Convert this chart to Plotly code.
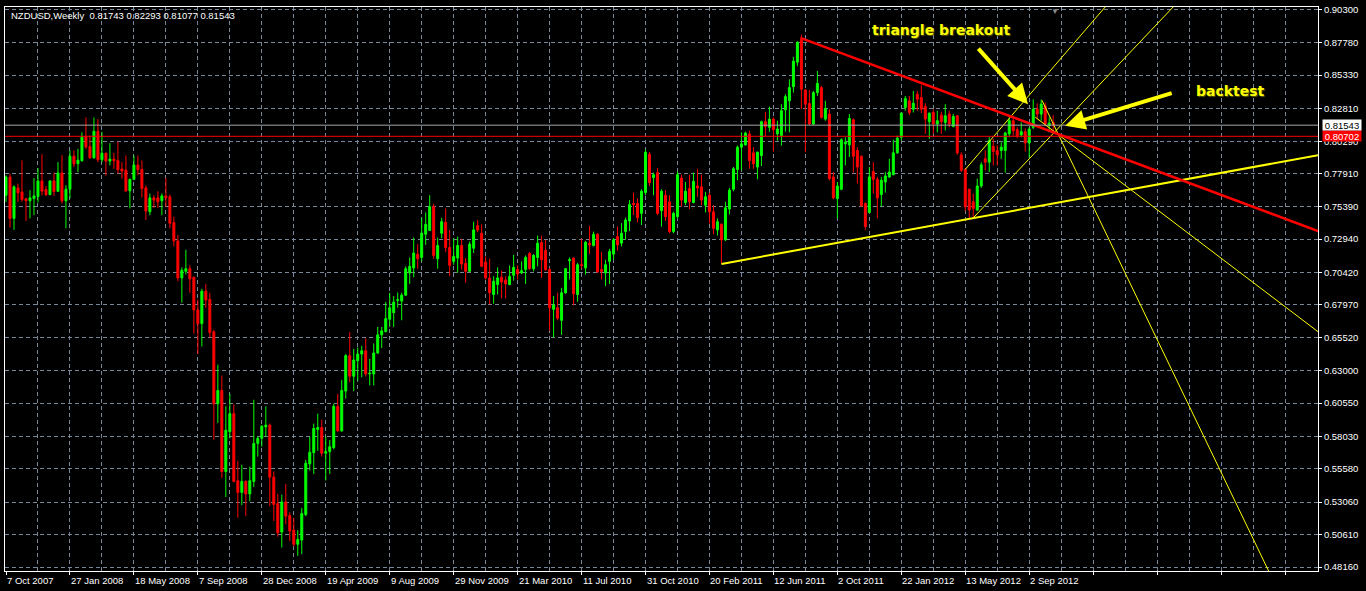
import pandas as pd
import plotly.graph_objects as go

# THEME (MetaTrader black chart)
BG = "#000000"
FG = "#ffffff"
GRID = "#778899"
BULL = "#00ff00"
BEAR = "#ff0000"
YELLOW = "#ffff00"
LAST_GRAY = "#a8a8a8"
FONT = "Liberation Sans"

START = pd.Timestamp("2007-10-07")
WEEK_MS = 7 * 86400000

# weekly NZDUSD candles, bar 0 = 7 Oct 2007
OPEN = [
    0.7625, 0.7763, 0.7450, 0.7680, 0.7650, 0.7598, 0.7583, 0.7600,
    0.7615, 0.7733, 0.7668, 0.7630, 0.7733, 0.7655, 0.7793, 0.7583,
    0.7670, 0.7920, 0.7863, 0.7885, 0.8068, 0.7993, 0.7908, 0.8108,
    0.7893, 0.7943, 0.7883, 0.7898, 0.7888, 0.7823, 0.7815, 0.7658,
    0.7745, 0.7853, 0.7820, 0.7680, 0.7500, 0.7605, 0.7605, 0.7583,
    0.7620, 0.7613, 0.7418, 0.7280, 0.7000, 0.7050, 0.7070, 0.7005,
    0.6758, 0.6655, 0.6900, 0.6838, 0.6593, 0.6050, 0.6150, 0.5538,
    0.5838, 0.5975, 0.5468, 0.5380, 0.5463, 0.5368, 0.5463, 0.5750,
    0.5788, 0.5875, 0.5888, 0.5495, 0.5295, 0.5080, 0.5308, 0.5205,
    0.5095, 0.4988, 0.5020, 0.5213, 0.5595, 0.5680, 0.5855, 0.5870,
    0.5675, 0.5688, 0.5718, 0.6030, 0.5845, 0.6145, 0.6413, 0.6258,
    0.6375, 0.6425, 0.6450, 0.6275, 0.6275, 0.6433, 0.6570, 0.6595,
    0.6688, 0.6738, 0.6830, 0.6825, 0.6870, 0.7038, 0.7075, 0.7180,
    0.7155, 0.7330, 0.7358, 0.7538, 0.7145, 0.7338, 0.7420, 0.7230,
    0.7125, 0.7150, 0.7245, 0.7110, 0.7050, 0.7225, 0.7395, 0.7338,
    0.7120, 0.7000, 0.6875, 0.6950, 0.7005, 0.6985, 0.6950, 0.7020,
    0.7063, 0.7038, 0.7063, 0.7185, 0.7070, 0.7155, 0.7268, 0.7208,
    0.7063, 0.6763, 0.6775, 0.6680, 0.6888, 0.7130, 0.7150, 0.6875,
    0.7100, 0.7075, 0.7263, 0.7245, 0.7330, 0.7063, 0.7038, 0.7125,
    0.7180, 0.7313, 0.7263, 0.7350, 0.7430, 0.7563, 0.7563, 0.7488,
    0.7645, 0.7935, 0.7758, 0.7795, 0.7508, 0.7625, 0.7575, 0.7350,
    0.7463, 0.7755, 0.7570, 0.7675, 0.7570, 0.7695, 0.7688, 0.7550,
    0.7625, 0.7500, 0.7363, 0.7405, 0.7288, 0.7520, 0.7670, 0.7820,
    0.7988, 0.8005, 0.8088, 0.7945, 0.7838, 0.7925, 0.8180, 0.8138,
    0.8200, 0.8088, 0.8075, 0.8270, 0.8338, 0.8445, 0.8630, 0.8800,
    0.8420, 0.8318, 0.8163, 0.8400, 0.8438, 0.8200, 0.8238, 0.7763,
    0.7600, 0.7670, 0.8013, 0.8005, 0.8195, 0.7963, 0.7920, 0.7563,
    0.7495, 0.7805, 0.7745, 0.7630, 0.7725, 0.7763, 0.7780, 0.7945,
    0.8063, 0.8288, 0.8338, 0.8275, 0.8388, 0.8363, 0.8295, 0.8180,
    0.8250, 0.8163, 0.8230, 0.8175, 0.8238, 0.8145, 0.8225, 0.7930,
    0.7820, 0.7670, 0.7575, 0.7513, 0.7695, 0.7900, 0.7875, 0.7995,
    0.7963, 0.7963, 0.7963, 0.8088, 0.8188, 0.8120, 0.8080, 0.8105,
    0.8020, 0.8138, 0.8275, 0.8238, 0.8300, 0.8150, 0.81743,
]
HIGH = [
    0.7775, 0.7788, 0.7700, 0.7713, 0.7888, 0.7605, 0.7663, 0.7755,
    0.7830, 0.7935, 0.7695, 0.7738, 0.7795, 0.7875, 0.7928, 0.7700,
    0.7963, 0.7963, 0.7975, 0.8100, 0.8213, 0.8075, 0.8213, 0.8200,
    0.8105, 0.7945, 0.8018, 0.7945, 0.8030, 0.7875, 0.7925, 0.7750,
    0.7925, 0.7925, 0.7888, 0.7700, 0.7638, 0.7625, 0.7655, 0.7638,
    0.7755, 0.7630, 0.7463, 0.7325, 0.7080, 0.7213, 0.7095, 0.7010,
    0.6838, 0.6918, 0.6955, 0.6888, 0.6608, 0.6345, 0.6263, 0.6030,
    0.6125, 0.6045, 0.5618, 0.5588, 0.5470, 0.5575, 0.6080, 0.5805,
    0.5888, 0.6030, 0.5900, 0.5538, 0.5370, 0.5363, 0.5445, 0.5230,
    0.5188, 0.5095, 0.5263, 0.5625, 0.5800, 0.5900, 0.5975, 0.5930,
    0.5800, 0.5775, 0.6050, 0.6125, 0.6230, 0.6425, 0.6593, 0.6463,
    0.6475, 0.6488, 0.6545, 0.6388, 0.6505, 0.6630, 0.6630, 0.6818,
    0.6888, 0.6863, 0.6890, 0.6888, 0.7088, 0.7155, 0.7305, 0.7255,
    0.7455, 0.7495, 0.7625, 0.7560, 0.7305, 0.7455, 0.7525, 0.7363,
    0.7300, 0.7313, 0.7295, 0.7150, 0.7275, 0.7425, 0.7438, 0.7405,
    0.7163, 0.7145, 0.7013, 0.7080, 0.7055, 0.7013, 0.7095, 0.7175,
    0.7095, 0.7125, 0.7170, 0.7195, 0.7180, 0.7320, 0.7320, 0.7288,
    0.7075, 0.6863, 0.6888, 0.6925, 0.7075, 0.7155, 0.7155, 0.7113,
    0.7295, 0.7280, 0.7395, 0.7350, 0.7338, 0.7195, 0.7138, 0.7220,
    0.7300, 0.7388, 0.7413, 0.7455, 0.7588, 0.7645, 0.7600, 0.7670,
    0.7970, 0.7950, 0.7795, 0.7830, 0.7670, 0.7663, 0.7625, 0.7500,
    0.7805, 0.7780, 0.7725, 0.7780, 0.7795, 0.7825, 0.7780, 0.7650,
    0.7645, 0.7550, 0.7450, 0.7413, 0.7575, 0.7680, 0.7838, 0.8000,
    0.8100, 0.8105, 0.8113, 0.7988, 0.7955, 0.8188, 0.8255, 0.8295,
    0.8213, 0.8188, 0.8313, 0.8388, 0.8500, 0.8670, 0.8788, 0.8838,
    0.8425, 0.8420, 0.8413, 0.8563, 0.8450, 0.8338, 0.8275, 0.7800,
    0.7725, 0.8055, 0.8063, 0.8238, 0.8205, 0.7988, 0.7925, 0.7570,
    0.7838, 0.7875, 0.7763, 0.7763, 0.7800, 0.7900, 0.8045, 0.8075,
    0.8250, 0.8375, 0.8375, 0.8413, 0.8413, 0.8455, 0.8320, 0.8250,
    0.8275, 0.8263, 0.8255, 0.8313, 0.8263, 0.8238, 0.8230, 0.7950,
    0.7825, 0.7675, 0.7638, 0.7750, 0.7875, 0.7963, 0.8063, 0.8050,
    0.8005, 0.8025, 0.8105, 0.8213, 0.8225, 0.8138, 0.8175, 0.8130,
    0.8138, 0.8350, 0.8320, 0.8348, 0.8325, 0.8213, 0.82293,
]
LOW = [
    0.7575, 0.7380, 0.7363, 0.7575, 0.7575, 0.7430, 0.7450, 0.7475,
    0.7570, 0.7625, 0.7620, 0.7625, 0.7620, 0.7650, 0.7563, 0.7375,
    0.7600, 0.7838, 0.7800, 0.7880, 0.7975, 0.7900, 0.7900, 0.7875,
    0.7875, 0.7775, 0.7850, 0.7825, 0.7788, 0.7750, 0.7650, 0.7525,
    0.7738, 0.7775, 0.7608, 0.7438, 0.7475, 0.7530, 0.7530, 0.7475,
    0.7538, 0.7375, 0.7238, 0.6975, 0.6813, 0.7025, 0.6888, 0.6580,
    0.6425, 0.6483, 0.6775, 0.6550, 0.5780, 0.5905, 0.5488, 0.5345,
    0.5788, 0.5455, 0.5188, 0.5283, 0.5200, 0.5313, 0.5420, 0.5650,
    0.5725, 0.5800, 0.5275, 0.5163, 0.5045, 0.4963, 0.5138, 0.5013,
    0.4970, 0.4900, 0.4913, 0.5200, 0.5545, 0.5520, 0.5695, 0.5650,
    0.5470, 0.5520, 0.5705, 0.5838, 0.5838, 0.6088, 0.6213, 0.6145,
    0.6225, 0.6250, 0.6255, 0.6188, 0.6188, 0.6425, 0.6470, 0.6588,
    0.6630, 0.6630, 0.6775, 0.6680, 0.6865, 0.6955, 0.7005, 0.7070,
    0.7125, 0.7250, 0.7355, 0.7145, 0.7070, 0.7300, 0.7195, 0.7013,
    0.7100, 0.7038, 0.7063, 0.6963, 0.7045, 0.7188, 0.7345, 0.7080,
    0.6988, 0.6800, 0.6805, 0.6875, 0.6845, 0.6845, 0.6945, 0.6980,
    0.6988, 0.7030, 0.6955, 0.7063, 0.7050, 0.7088, 0.7000, 0.7055,
    0.6600, 0.6550, 0.6680, 0.6570, 0.6880, 0.6988, 0.6795, 0.6820,
    0.7070, 0.7025, 0.7180, 0.7238, 0.7038, 0.6988, 0.6938, 0.6955,
    0.7138, 0.7205, 0.7238, 0.7288, 0.7355, 0.7475, 0.7420, 0.7400,
    0.7625, 0.7695, 0.7625, 0.7475, 0.7388, 0.7430, 0.7338, 0.7338,
    0.7450, 0.7538, 0.7550, 0.7520, 0.7563, 0.7613, 0.7550, 0.7495,
    0.7413, 0.7330, 0.7320, 0.7105, 0.7280, 0.7480, 0.7655, 0.7738,
    0.7813, 0.8000, 0.7825, 0.7825, 0.7745, 0.7845, 0.8070, 0.8105,
    0.7955, 0.8038, 0.8000, 0.8105, 0.8100, 0.8400, 0.8600, 0.8275,
    0.7950, 0.8155, 0.8155, 0.8375, 0.8205, 0.8188, 0.7738, 0.7595,
    0.7450, 0.7663, 0.7850, 0.7913, 0.7795, 0.7713, 0.7538, 0.7363,
    0.7488, 0.7638, 0.7450, 0.7538, 0.7645, 0.7755, 0.7775, 0.7938,
    0.8038, 0.8263, 0.8230, 0.8250, 0.8263, 0.8245, 0.8088, 0.8050,
    0.8088, 0.8100, 0.8088, 0.8113, 0.8138, 0.8138, 0.7930, 0.7800,
    0.7505, 0.7450, 0.7455, 0.7505, 0.7680, 0.7813, 0.7800, 0.7850,
    0.7850, 0.7900, 0.7795, 0.8063, 0.8075, 0.8055, 0.8063, 0.7955,
    0.7905, 0.8125, 0.8200, 0.8188, 0.8145, 0.8100, 0.81077,
]
CLOSE = [
    0.7763, 0.7450, 0.7688, 0.7643, 0.7593, 0.7583, 0.7605, 0.7620,
    0.7733, 0.7655, 0.7628, 0.7733, 0.7653, 0.7793, 0.7583, 0.7670,
    0.7920, 0.7863, 0.7890, 0.8063, 0.7990, 0.7908, 0.8108, 0.7893,
    0.7943, 0.7883, 0.7898, 0.7885, 0.7818, 0.7808, 0.7658, 0.7745,
    0.7853, 0.7818, 0.7675, 0.7505, 0.7605, 0.7588, 0.7575, 0.7620,
    0.7605, 0.7413, 0.7280, 0.7000, 0.7058, 0.7070, 0.6993, 0.6758,
    0.6655, 0.6900, 0.6833, 0.6588, 0.6050, 0.6150, 0.5538, 0.5850,
    0.5975, 0.5463, 0.5380, 0.5463, 0.5368, 0.5468, 0.5750, 0.5788,
    0.5880, 0.5888, 0.5495, 0.5288, 0.5075, 0.5308, 0.5200, 0.5088,
    0.4988, 0.5025, 0.5220, 0.5600, 0.5683, 0.5863, 0.5870, 0.5675,
    0.5688, 0.5725, 0.6030, 0.5845, 0.6150, 0.6413, 0.6258, 0.6380,
    0.6425, 0.6450, 0.6275, 0.6280, 0.6433, 0.6570, 0.6600, 0.6693,
    0.6775, 0.6818, 0.6835, 0.6870, 0.7070, 0.7088, 0.7188, 0.7145,
    0.7338, 0.7405, 0.7538, 0.7170, 0.7245, 0.7425, 0.7230, 0.7095,
    0.7163, 0.7245, 0.7105, 0.7050, 0.7255, 0.7363, 0.7363, 0.7088,
    0.7000, 0.6888, 0.6975, 0.7000, 0.6970, 0.6955, 0.7010, 0.7080,
    0.7030, 0.7055, 0.7155, 0.7070, 0.7170, 0.7263, 0.7138, 0.7063,
    0.6775, 0.6795, 0.6695, 0.6888, 0.7070, 0.7138, 0.6880, 0.7100,
    0.7095, 0.7270, 0.7250, 0.7330, 0.7045, 0.7050, 0.7100, 0.7200,
    0.7288, 0.7250, 0.7338, 0.7438, 0.7555, 0.7555, 0.7455, 0.7655,
    0.7950, 0.7720, 0.7780, 0.7488, 0.7655, 0.7463, 0.7350, 0.7488,
    0.7780, 0.7588, 0.7655, 0.7575, 0.7730, 0.7680, 0.7588, 0.7613,
    0.7500, 0.7375, 0.7425, 0.7288, 0.7530, 0.7663, 0.7825, 0.7988,
    0.8013, 0.8095, 0.7888, 0.7863, 0.7950, 0.8180, 0.8145, 0.8200,
    0.8120, 0.8125, 0.8263, 0.8370, 0.8438, 0.8638, 0.8780, 0.8425,
    0.8313, 0.8163, 0.8400, 0.8470, 0.8213, 0.8280, 0.7750, 0.7605,
    0.7695, 0.8045, 0.8025, 0.8205, 0.7920, 0.7838, 0.7545, 0.7388,
    0.7763, 0.7745, 0.7605, 0.7738, 0.7770, 0.7800, 0.7945, 0.8055,
    0.8245, 0.8355, 0.8250, 0.8320, 0.8350, 0.8275, 0.8200, 0.8245,
    0.8163, 0.8188, 0.8180, 0.8225, 0.8163, 0.8220, 0.7945, 0.7813,
    0.7538, 0.7513, 0.7525, 0.7695, 0.7855, 0.7875, 0.8038, 0.7955,
    0.7930, 0.7988, 0.8095, 0.8188, 0.8113, 0.8075, 0.8105, 0.8020,
    0.8125, 0.8275, 0.8238, 0.8313, 0.8163, 0.8170, 0.81543,
]

PRICE_TICKS = [0.90300, 0.87780, 0.85330, 0.82810, 0.80290, 0.77910, 0.75390,
               0.72940, 0.70420, 0.67970, 0.65520, 0.63000, 0.60550, 0.58030,
               0.55580, 0.53060, 0.50610, 0.48160]
LAST_PRICE = 0.81543
HLINE_PRICE = 0.80702

# drawn objects: anchor points as (bar index, price)
RED_TREND_BARS = [198.75, 328.25]
RED_TREND_PRICES = [0.8814, 0.7354]
SUPPORT_BARS = [179, 328.25]
SUPPORT_PRICES = [0.7106, 0.7927]
FAN_STEEP_BARS = [259.2, 315.9]
FAN_STEEP_PRICES = [0.8341, 0.4786]
FAN_FLAT_BARS = [257.5, 328.25]
FAN_FLAT_PRICES = [0.8215, 0.6594]
CHAN_LOW_BARS = [242, 292]
CHAN_LOW_PRICES = [0.7454, 0.9047]
CHAN_HIGH_BARS = [240, 275]
CHAN_HIGH_PRICES = [0.7820, 0.9047]

Y_RANGE = [0.4786, 0.9047]
BAR_RANGE = [-0.25, 328.25]


def wk(b):
    return START + pd.Timedelta(days=7 * b)


dates = [wk(i) for i in range(len(CLOSE))]

fig = go.Figure()
fig.add_trace(go.Candlestick(
    x=dates, open=OPEN, high=HIGH, low=LOW, close=CLOSE,
    increasing=dict(line=dict(color=BULL, width=1), fillcolor=BULL),
    decreasing=dict(line=dict(color=BEAR, width=1), fillcolor=BEAR),
    whiskerwidth=0, hoverinfo="skip", showlegend=False,
))


def add_line(bars, prices, color, width):
    fig.add_trace(go.Scatter(
        x=[wk(b) for b in bars], y=prices, mode="lines",
        line=dict(color=color, width=width),
        hoverinfo="skip", showlegend=False,
    ))


add_line(SUPPORT_BARS, SUPPORT_PRICES, YELLOW, 2)
add_line(FAN_STEEP_BARS, FAN_STEEP_PRICES, YELLOW, 1)
add_line(FAN_FLAT_BARS, FAN_FLAT_PRICES, YELLOW, 1)
add_line(CHAN_LOW_BARS, CHAN_LOW_PRICES, YELLOW, 1)
add_line(CHAN_HIGH_BARS, CHAN_HIGH_PRICES, YELLOW, 1)
add_line(RED_TREND_BARS, RED_TREND_PRICES, BEAR, 2.5)

fig.add_hline(y=LAST_PRICE, line=dict(color=LAST_GRAY, width=1))
fig.add_hline(y=HLINE_PRICE, line=dict(color=BEAR, width=1))

DASH = "4px,3px"
fig.update_xaxes(
    type="date", range=[wk(BAR_RANGE[0]), wk(BAR_RANGE[1])],
    rangeslider_visible=False, zeroline=False,
    tick0=START, dtick=16 * WEEK_MS, ticks="outside", ticklen=3, tickcolor=FG,
    showticklabels=False,
    showgrid=True, gridcolor=GRID, griddash=DASH, gridwidth=1,
    minor=dict(tick0=START, dtick=8 * WEEK_MS, showgrid=True,
               gridcolor=GRID, griddash=DASH, gridwidth=1, ticks=""),
    showline=True, linecolor=FG, linewidth=1, mirror=True,
)
fig.update_yaxes(
    range=Y_RANGE, side="right", zeroline=False,
    tickvals=PRICE_TICKS, tickformat=".5f",
    ticks="outside", ticklen=3, tickcolor=FG,
    tickfont=dict(color=FG, size=9.5, family=FONT),
    showgrid=True, gridcolor=GRID, griddash=DASH, gridwidth=1,
    showline=True, linecolor=FG, linewidth=1, mirror=True,
)

ann = []
# date labels, left aligned at their tick like MT4
for b in range(0, len(CLOSE), 16):
    d = wk(b)
    ann.append(dict(x=d, y=0, xref="x", yref="paper", xanchor="left", yanchor="top",
                    yshift=-3, borderpad=0, showarrow=False,
                    text=f"{d.day} {d:%b %Y}", font=dict(color=FG, size=9.5, family=FONT)))

# chart title
ann.append(dict(x=0, y=1, xref="paper", yref="paper", xanchor="left", yanchor="top",
                xshift=5, yshift=-2, showarrow=False, borderpad=0,
                text=f"NZDUSD,Weekly  {OPEN[-1]:.5f} {HIGH[-1]:.5f} {LOW[-1]:.5f} {CLOSE[-1]:.5f}",
                font=dict(color=FG, size=9.5, family=FONT)))

# price tags on the right scale (the red tag covers part of 0.80290, as in MT4)
for price, bg, fg in [(HLINE_PRICE, BEAR, FG), (LAST_PRICE, FG, "#000000")]:
    ann.append(dict(x=1, y=price, xref="paper", yref="y", xanchor="left", yanchor="middle",
                    xshift=4, showarrow=False, text=f"{price:.5f}", bgcolor=bg,
                    borderpad=0, width=38, height=10, align="center",
                    font=dict(color=fg, size=9.5, family=FONT)))

# chart shift marker
ann.append(dict(x=wk(262.5), y=1, xref="x", yref="paper", yanchor="top", yshift=2,
                showarrow=False, text="▼", font=dict(color="#8a8a8a", size=8)))

# hand drawn labels and arrows
LABEL_FONT = dict(color=YELLOW, size=14, family="DejaVu Sans", weight="bold",
                  shadow="1px 1px 1px #5a5a00")
ann.append(dict(x=wk(233.9), y=0.8870, text="triangle breakout", showarrow=False,
                font=LABEL_FONT))
ann.append(dict(x=wk(306.4), y=0.8416, text="backtest", showarrow=False, font=LABEL_FONT))
ann.append(dict(x=wk(255.7), y=0.8313, ax=-51, ay=-57, text="", showarrow=True,
                arrowhead=2, arrowsize=1, arrowwidth=4, arrowcolor=YELLOW, standoff=0))
ann.append(dict(x=wk(265), y=0.8150, ax=108, ay=-33, text="", showarrow=True,
                arrowhead=2, arrowsize=1, arrowwidth=4, arrowcolor=YELLOW, standoff=0))

fig.update_layout(
    width=1366, height=591,
    paper_bgcolor=BG, plot_bgcolor=BG,
    margin=dict(l=4, r=48, t=4, b=20),
    font=dict(color=FG, family=FONT, size=9.5),
    showlegend=False, hovermode=False,
    annotations=ann,
)

fig.write_html(
    "out.html",
    config={"displayModeBar": False},
    post_script="document.body.style.margin='0';document.body.style.overflow='hidden';",
)
